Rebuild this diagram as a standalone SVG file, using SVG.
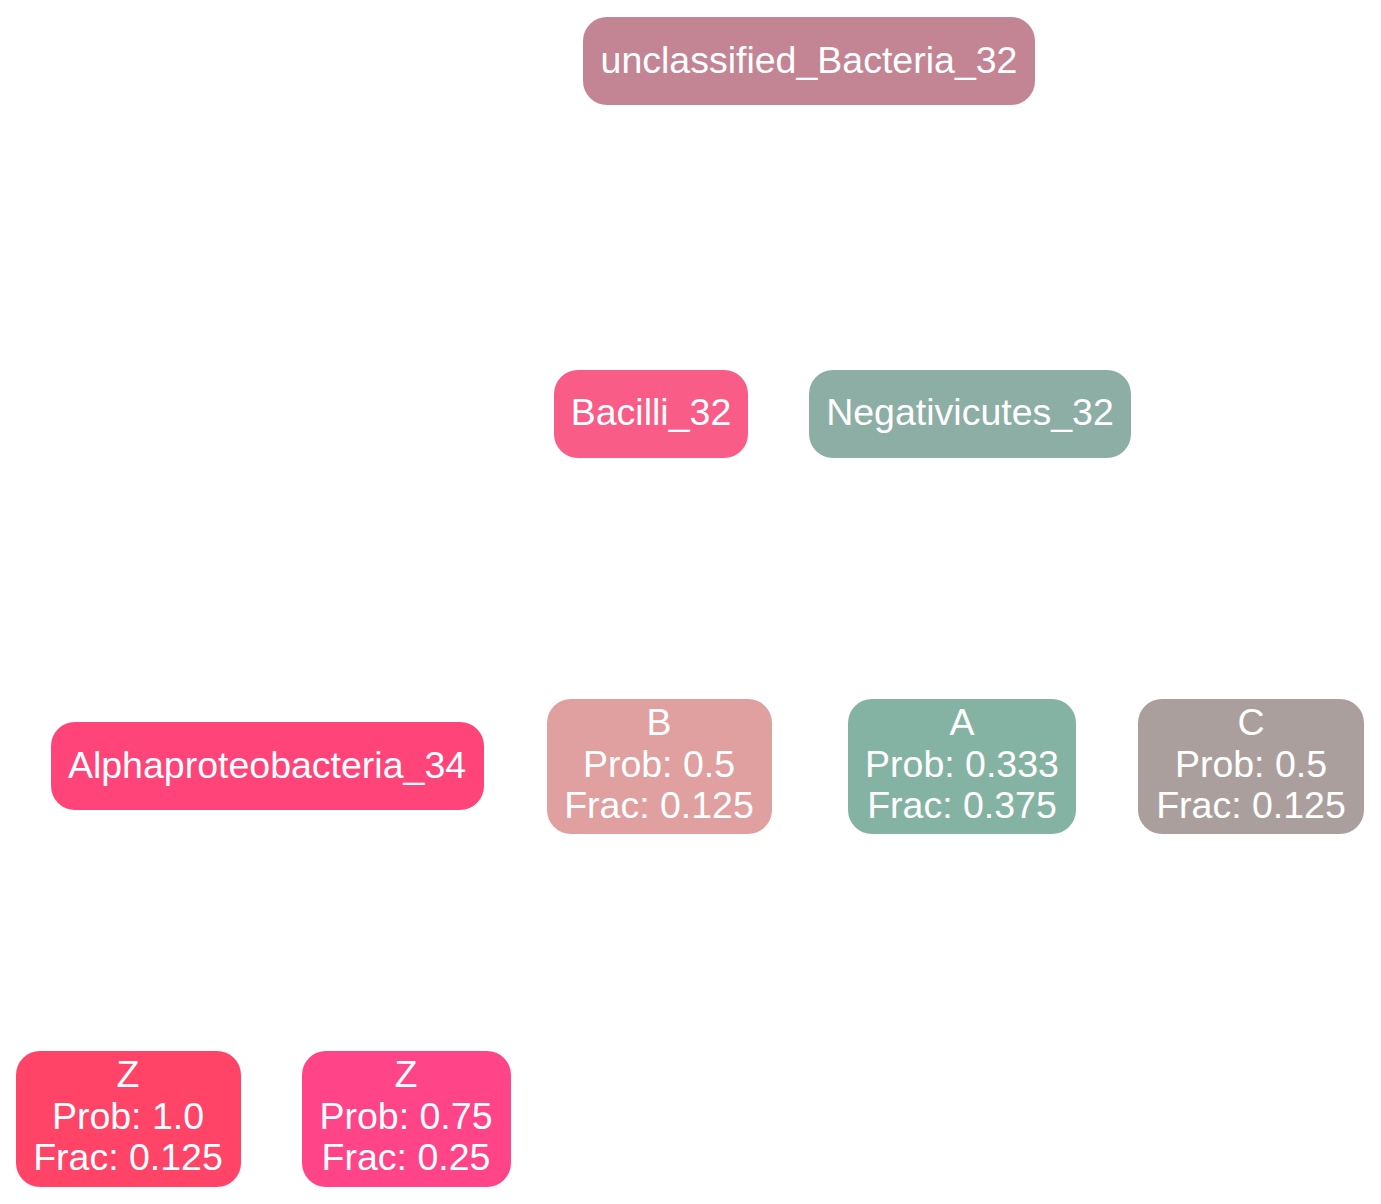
<svg xmlns="http://www.w3.org/2000/svg" width="1381" height="1204" viewBox="0 0 1381 1204">
<style>
.n text{font-family:"Liberation Sans",Arial,sans-serif;font-size:37.5px;fill:#ffffff;text-anchor:middle}
</style>
<rect width="1381" height="1204" fill="#ffffff"/>
<g id="connectors"></g>
<g id="unclassified_Bacteria_32" class="n"><rect x="583" y="17" width="452" height="88" rx="24" fill="#C38594"/><text x="809" y="73">unclassified_Bacteria_32</text></g>
<g id="Bacilli_32" class="n"><rect x="554" y="370" width="194" height="88" rx="24" fill="#F95C87"/><text x="651" y="425">Bacilli_32</text></g>
<g id="Negativicutes_32" class="n"><rect x="809" y="370" width="322" height="88" rx="24" fill="#8DAEA4"/><text x="970" y="425">Negativicutes_32</text></g>
<g id="Alphaproteobacteria_34" class="n"><rect x="51" y="722" width="433" height="88" rx="24" fill="#FF447A"/><text x="267" y="778">Alphaproteobacteria_34</text></g>
<g id="B" class="n"><rect x="547" y="699" width="225" height="135" rx="24" fill="#E0A0A0"/><text x="659" y="735">B</text><text x="659" y="777">Prob: 0.5</text><text x="659" y="818">Frac: 0.125</text></g>
<g id="A" class="n"><rect x="848" y="699" width="228" height="135" rx="24" fill="#85B3A3"/><text x="962" y="735">A</text><text x="962" y="777">Prob: 0.333</text><text x="962" y="818">Frac: 0.375</text></g>
<g id="C" class="n"><rect x="1138" y="699" width="226" height="135" rx="24" fill="#AB9F9E"/><text x="1251" y="735">C</text><text x="1251" y="777">Prob: 0.5</text><text x="1251" y="818">Frac: 0.125</text></g>
<g id="Z1" class="n"><rect x="16" y="1051" width="225" height="136" rx="24" fill="#FF4468"/><text x="128" y="1087">Z</text><text x="128" y="1129">Prob: 1.0</text><text x="128" y="1170">Frac: 0.125</text></g>
<g id="Z2" class="n"><rect x="302" y="1051" width="209" height="136" rx="24" fill="#FF4488"/><text x="406" y="1087">Z</text><text x="406" y="1129">Prob: 0.75</text><text x="406" y="1170">Frac: 0.25</text></g>
</svg>
